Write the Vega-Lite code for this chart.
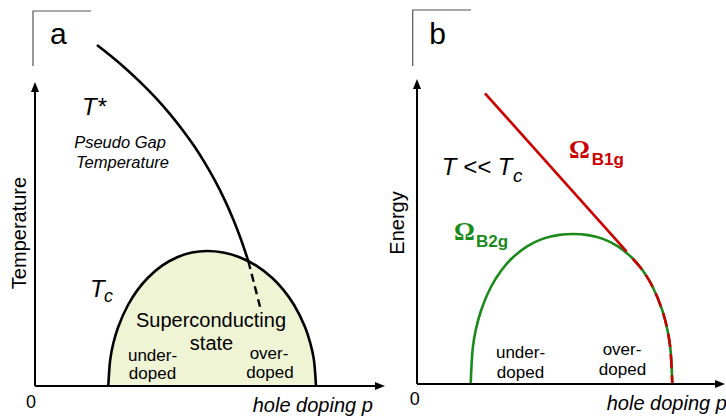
{
  "$schema": "https://vega.github.io/schema/vega-lite/v6.json",
  "padding": 0,
  "spacing": 0,
  "bounds": "flush",
  "background": "white",
  "config": {"view": {"stroke": null}, "text": {"font": "Liberation Sans"}},
  "resolve": {"scale": {"x": "independent", "y": "independent", "shape": "independent"}},
  "datasets": {
    "a_lines": [
      {"curve": "Tc", "i": 0, "p": 0.0733, "T": 0},
      {"curve": "Tc", "i": 1, "p": 0.0753, "T": 0.0897},
      {"curve": "Tc", "i": 2, "p": 0.0782, "T": 0.1407},
      {"curve": "Tc", "i": 3, "p": 0.0831, "T": 0.196},
      {"curve": "Tc", "i": 4, "p": 0.093, "T": 0.27},
      {"curve": "Tc", "i": 5, "p": 0.1028, "T": 0.3213},
      {"curve": "Tc", "i": 6, "p": 0.1127, "T": 0.36},
      {"curve": "Tc", "i": 7, "p": 0.1274, "T": 0.402},
      {"curve": "Tc", "i": 8, "p": 0.1422, "T": 0.4293},
      {"curve": "Tc", "i": 9, "p": 0.1569, "T": 0.445},
      {"curve": "Tc", "i": 10, "p": 0.1717, "T": 0.45},
      {"curve": "Tc", "i": 11, "p": 0.1881, "T": 0.445},
      {"curve": "Tc", "i": 12, "p": 0.2045, "T": 0.4293},
      {"curve": "Tc", "i": 13, "p": 0.2209, "T": 0.402},
      {"curve": "Tc", "i": 14, "p": 0.2373, "T": 0.36},
      {"curve": "Tc", "i": 15, "p": 0.2482, "T": 0.3213},
      {"curve": "Tc", "i": 16, "p": 0.2591, "T": 0.27},
      {"curve": "Tc", "i": 17, "p": 0.2701, "T": 0.196},
      {"curve": "Tc", "i": 18, "p": 0.2755, "T": 0.1407},
      {"curve": "Tc", "i": 19, "p": 0.2788, "T": 0.0897},
      {"curve": "Tc", "i": 20, "p": 0.281, "T": 0},
      {"curve": "T*", "i": 0, "p": 0.062, "T": 1.1367},
      {"curve": "T*", "i": 1, "p": 0.075, "T": 1.1023},
      {"curve": "T*", "i": 2, "p": 0.0883, "T": 1.065},
      {"curve": "T*", "i": 3, "p": 0.105, "T": 1.0137},
      {"curve": "T*", "i": 4, "p": 0.1217, "T": 0.957},
      {"curve": "T*", "i": 5, "p": 0.135, "T": 0.9063},
      {"curve": "T*", "i": 6, "p": 0.1483, "T": 0.8503},
      {"curve": "T*", "i": 7, "p": 0.16, "T": 0.7957},
      {"curve": "T*", "i": 8, "p": 0.17, "T": 0.743},
      {"curve": "T*", "i": 9, "p": 0.18, "T": 0.6843},
      {"curve": "T*", "i": 10, "p": 0.19, "T": 0.618},
      {"curve": "T*", "i": 11, "p": 0.1983, "T": 0.555},
      {"curve": "T*", "i": 12, "p": 0.205, "T": 0.4973},
      {"curve": "T*", "i": 13, "p": 0.21, "T": 0.4497},
      {"curve": "T*", "i": 14, "p": 0.2133, "T": 0.4157},
      {"curve": "T* inside dome", "i": 0, "p": 0.2133, "T": 0.4157},
      {"curve": "T* inside dome", "i": 1, "p": 0.219, "T": 0.343},
      {"curve": "T* inside dome", "i": 2, "p": 0.225, "T": 0.2643},
      {"curve": "p axis", "i": 0, "p": 0, "T": 0},
      {"curve": "p axis", "i": 1, "p": 0.342, "T": 0},
      {"curve": "T axis", "i": 0, "p": 0, "T": 0},
      {"curve": "T axis", "i": 1, "p": 0, "T": 1.005},
      {"curve": "frame", "i": 0, "p": -0.002, "T": 1.0667},
      {"curve": "frame", "i": 1, "p": -0.002, "T": 1.25},
      {"curve": "frame", "i": 2, "p": 0.056, "T": 1.25}
    ],
    "a_arrows": [
      {"dir": "right", "p": 0.35, "T": 0},
      {"dir": "up", "p": 0, "T": 1.0133}
    ],
    "a_text": [
      {"kind": "panel", "label": "a", "p": 0.0233, "T": 1.14},
      {"kind": "symbol", "label": "T*", "p": 0.047, "T": 0.9033},
      {"kind": "note", "label": "Pseudo Gap", "p": 0.085, "T": 0.7933},
      {"kind": "note", "label": "Temperature", "p": 0.0875, "T": 0.7267},
      {"kind": "symbol", "label": "T", "p": 0.055, "T": 0.2967},
      {"kind": "subscript", "label": "c", "p": 0.069, "T": 0.28},
      {"kind": "region", "label": "Superconducting", "p": 0.176, "T": 0.1967},
      {"kind": "region", "label": "state", "p": 0.1765, "T": 0.12},
      {"kind": "doping", "label": "under-", "p": 0.1175, "T": 0.0833},
      {"kind": "doping", "label": "doped", "p": 0.1175, "T": 0.0233},
      {"kind": "doping", "label": "over-", "p": 0.234, "T": 0.09},
      {"kind": "doping", "label": "doped", "p": 0.235, "T": 0.0267},
      {"kind": "origin", "label": "0", "p": -0.004, "T": -0.0733},
      {"kind": "xtitle", "label": "hole doping p", "p": 0.2177, "T": -0.0857},
      {"kind": "ytitle", "label": "Temperature", "p": -0.009, "T": 0.51}
    ],
    "b_lines": [
      {"curve": "B2g", "i": 0, "p": 0.0537, "E": 0},
      {"curve": "B2g", "i": 1, "p": 0.0558, "E": 0.1203},
      {"curve": "B2g", "i": 2, "p": 0.0588, "E": 0.1807},
      {"curve": "B2g", "i": 3, "p": 0.064, "E": 0.2443},
      {"curve": "B2g", "i": 4, "p": 0.0742, "E": 0.325},
      {"curve": "B2g", "i": 5, "p": 0.0845, "E": 0.379},
      {"curve": "B2g", "i": 6, "p": 0.0947, "E": 0.4183},
      {"curve": "B2g", "i": 7, "p": 0.1101, "E": 0.4587},
      {"curve": "B2g", "i": 8, "p": 0.1255, "E": 0.4837},
      {"curve": "B2g", "i": 9, "p": 0.1409, "E": 0.4963},
      {"curve": "B2g", "i": 10, "p": 0.1563, "E": 0.5},
      {"curve": "B2g", "i": 11, "p": 0.1712, "E": 0.4963},
      {"curve": "B2g", "i": 12, "p": 0.186, "E": 0.4837},
      {"curve": "B2g", "i": 13, "p": 0.2009, "E": 0.4587},
      {"curve": "B2g", "i": 14, "p": 0.2157, "E": 0.4183},
      {"curve": "B2g", "i": 15, "p": 0.2256, "E": 0.379},
      {"curve": "B2g", "i": 16, "p": 0.2355, "E": 0.325},
      {"curve": "B2g", "i": 17, "p": 0.2454, "E": 0.2443},
      {"curve": "B2g", "i": 18, "p": 0.2504, "E": 0.1807},
      {"curve": "B2g", "i": 19, "p": 0.2533, "E": 0.1203},
      {"curve": "B2g", "i": 20, "p": 0.2553, "E": 0},
      {"curve": "B1g", "i": 0, "p": 0.068, "E": 0.969},
      {"curve": "B1g", "i": 1, "p": 0.2097, "E": 0.441},
      {"curve": "B1g overdoped", "i": 0, "p": 0.2157, "E": 0.4183},
      {"curve": "B1g overdoped", "i": 1, "p": 0.2256, "E": 0.379},
      {"curve": "B1g overdoped", "i": 2, "p": 0.2355, "E": 0.325},
      {"curve": "B1g overdoped", "i": 3, "p": 0.2454, "E": 0.2443},
      {"curve": "B1g overdoped", "i": 4, "p": 0.2504, "E": 0.1807},
      {"curve": "B1g overdoped", "i": 5, "p": 0.2533, "E": 0.1203},
      {"curve": "B1g overdoped", "i": 6, "p": 0.2553, "E": 0},
      {"curve": "p axis", "i": 0, "p": 0, "E": 0},
      {"curve": "p axis", "i": 1, "p": 0.3, "E": 0},
      {"curve": "E axis", "i": 0, "p": 0, "E": 0},
      {"curve": "E axis", "i": 1, "p": 0, "E": 1.008},
      {"curve": "frame", "i": 0, "p": -0.0043, "E": 1.06},
      {"curve": "frame", "i": 1, "p": -0.0043, "E": 1.2467},
      {"curve": "frame", "i": 2, "p": 0.054, "E": 1.2467}
    ],
    "b_arrows": [
      {"dir": "right", "p": 0.308, "E": 0},
      {"dir": "up", "p": 0, "E": 1.0167}
    ],
    "b_text": [
      {"kind": "panel", "label": "b", "p": 0.0205, "E": 1.1333},
      {"kind": "symbol", "label": "T << T", "p": 0.0247, "E": 0.6967},
      {"kind": "subscript", "label": "c", "p": 0.096, "E": 0.6733},
      {"kind": "mode", "mode": "B1g", "label": "Ω", "p": 0.152, "E": 0.7523},
      {"kind": "modesub", "mode": "B1g", "label": "B1g", "p": 0.1747, "E": 0.73},
      {"kind": "mode", "mode": "B2g", "label": "Ω", "p": 0.037, "E": 0.48},
      {"kind": "modesub", "mode": "B2g", "label": "B2g", "p": 0.059, "E": 0.4577},
      {"kind": "doping", "label": "under-", "p": 0.1035, "E": 0.0857},
      {"kind": "doping", "label": "doped", "p": 0.1035, "E": 0.021},
      {"kind": "doping", "label": "over-", "p": 0.205, "E": 0.0967},
      {"kind": "doping", "label": "doped", "p": 0.2055, "E": 0.03},
      {"kind": "origin", "label": "0", "p": -0.0023, "E": -0.07},
      {"kind": "xtitle", "label": "hole doping p", "p": 0.1897, "E": -0.0867},
      {"kind": "ytitle", "label": "Energy", "p": -0.013, "E": 0.5367}
    ]
  },
  "hconcat": [
    {
      "width": 363,
      "height": 417,
      "encoding": {
        "x": {"field": "p", "type": "quantitative", "axis": null, "scale": {"domain": [-0.035, 0.328], "nice": false, "zero": false}},
        "y": {"field": "T", "type": "quantitative", "axis": null, "scale": {"domain": [-0.10333, 1.28667], "nice": false, "zero": false}}
      },
      "layer": [
        {
          "data": {"name": "a_lines"},
          "transform": [{"filter": "datum.curve === 'Tc'"}],
          "mark": {"type": "area", "color": "#eef4d4", "opacity": 1, "interpolate": "catmull-rom"},
          "encoding": {"y2": {"datum": 0}}
        },
        {
          "data": {"name": "a_lines"},
          "transform": [{"filter": "datum.curve === 'Tc' || datum.curve === 'T*'"}],
          "mark": {"type": "line", "color": "black", "strokeWidth": 2.6, "interpolate": "catmull-rom"},
          "encoding": {"detail": {"field": "curve"}, "order": {"field": "i"}}
        },
        {
          "data": {"name": "a_lines"},
          "transform": [{"filter": "datum.curve === 'T* inside dome'"}],
          "mark": {"type": "line", "color": "black", "strokeWidth": 2.4, "strokeDash": [8, 5], "interpolate": "catmull-rom"},
          "encoding": {"order": {"field": "i"}}
        },
        {
          "data": {"name": "a_lines"},
          "transform": [{"filter": "datum.curve === 'p axis' || datum.curve === 'T axis'"}],
          "mark": {"type": "line", "color": "black", "strokeWidth": 2},
          "encoding": {"detail": {"field": "curve"}, "order": {"field": "i"}}
        },
        {
          "data": {"name": "a_lines"},
          "transform": [{"filter": "datum.curve === 'frame'"}],
          "mark": {"type": "line", "color": "#555555", "strokeWidth": 1.2},
          "encoding": {"order": {"field": "i"}}
        },
        {
          "data": {"name": "a_arrows"},
          "mark": {"type": "point", "filled": true, "color": "black", "opacity": 1, "size": 100},
          "encoding": {"shape": {"field": "dir", "type": "nominal", "legend": null, "scale": {"domain": ["right", "up"], "range": ["M 0 0 L -2 -0.8 L -2 0.8 Z", "M 0 0 L -0.8 2 L 0.8 2 Z"]}}}
        },
        {
          "data": {"name": "a_text"},
          "transform": [{"filter": "datum.kind === 'panel'"}],
          "mark": {"type": "text", "fontSize": 30, "align": "center", "baseline": "alphabetic", "color": "black"},
          "encoding": {"text": {"field": "label"}}
        },
        {
          "data": {"name": "a_text"},
          "transform": [{"filter": "datum.kind === 'symbol'"}],
          "mark": {"type": "text", "fontSize": 24, "fontStyle": "italic", "align": "left", "baseline": "alphabetic", "color": "black"},
          "encoding": {"text": {"field": "label"}}
        },
        {
          "data": {"name": "a_text"},
          "transform": [{"filter": "datum.kind === 'subscript'"}],
          "mark": {"type": "text", "fontSize": 18, "fontStyle": "italic", "align": "left", "baseline": "alphabetic", "color": "black"},
          "encoding": {"text": {"field": "label"}}
        },
        {
          "data": {"name": "a_text"},
          "transform": [{"filter": "datum.kind === 'note'"}],
          "mark": {"type": "text", "fontSize": 16.5, "fontStyle": "italic", "align": "center", "baseline": "alphabetic", "color": "black"},
          "encoding": {"text": {"field": "label"}}
        },
        {
          "data": {"name": "a_text"},
          "transform": [{"filter": "datum.kind === 'region'"}],
          "mark": {"type": "text", "fontSize": 20, "align": "center", "baseline": "alphabetic", "color": "black"},
          "encoding": {"text": {"field": "label"}}
        },
        {
          "data": {"name": "a_text"},
          "transform": [{"filter": "datum.kind === 'doping'"}],
          "mark": {"type": "text", "fontSize": 17, "align": "center", "baseline": "alphabetic", "color": "black"},
          "encoding": {"text": {"field": "label"}}
        },
        {
          "data": {"name": "a_text"},
          "transform": [{"filter": "datum.kind === 'origin'"}],
          "mark": {"type": "text", "fontSize": 18, "align": "center", "baseline": "alphabetic", "color": "black"},
          "encoding": {"text": {"field": "label"}}
        },
        {
          "data": {"name": "a_text"},
          "transform": [{"filter": "datum.kind === 'xtitle'"}],
          "mark": {"type": "text", "fontSize": 20, "fontStyle": "italic", "align": "left", "baseline": "alphabetic", "color": "black"},
          "encoding": {"text": {"field": "label"}}
        },
        {
          "data": {"name": "a_text"},
          "transform": [{"filter": "datum.kind === 'ytitle'"}],
          "mark": {"type": "text", "fontSize": 20, "angle": 270, "align": "center", "baseline": "alphabetic", "color": "black"},
          "encoding": {"text": {"field": "label"}}
        }
      ]
    },
    {
      "width": 363,
      "height": 417,
      "encoding": {
        "x": {"field": "p", "type": "quantitative", "axis": null, "scale": {"domain": [-0.054, 0.309], "nice": false, "zero": false}},
        "y": {"field": "E", "type": "quantitative", "axis": null, "scale": {"domain": [-0.11, 1.28], "nice": false, "zero": false}}
      },
      "layer": [
        {
          "data": {"name": "b_lines"},
          "transform": [{"filter": "datum.curve === 'B2g'"}],
          "mark": {"type": "line", "color": "#1a8a1a", "strokeWidth": 2.6, "interpolate": "catmull-rom"},
          "encoding": {"order": {"field": "i"}}
        },
        {
          "data": {"name": "b_lines"},
          "transform": [{"filter": "datum.curve === 'B1g'"}],
          "mark": {"type": "line", "color": "#cc0000", "strokeWidth": 2.6},
          "encoding": {"order": {"field": "i"}}
        },
        {
          "data": {"name": "b_lines"},
          "transform": [{"filter": "datum.curve === 'B1g overdoped'"}],
          "mark": {"type": "line", "color": "#cc0000", "strokeWidth": 2.6, "strokeDash": [14, 7], "interpolate": "catmull-rom"},
          "encoding": {"order": {"field": "i"}}
        },
        {
          "data": {"name": "b_lines"},
          "transform": [{"filter": "datum.curve === 'p axis' || datum.curve === 'E axis'"}],
          "mark": {"type": "line", "color": "black", "strokeWidth": 2},
          "encoding": {"detail": {"field": "curve"}, "order": {"field": "i"}}
        },
        {
          "data": {"name": "b_lines"},
          "transform": [{"filter": "datum.curve === 'frame'"}],
          "mark": {"type": "line", "color": "#555555", "strokeWidth": 1.2},
          "encoding": {"order": {"field": "i"}}
        },
        {
          "data": {"name": "b_arrows"},
          "mark": {"type": "point", "filled": true, "color": "black", "opacity": 1, "size": 100},
          "encoding": {"shape": {"field": "dir", "type": "nominal", "legend": null, "scale": {"domain": ["right", "up"], "range": ["M 0 0 L -2 -0.8 L -2 0.8 Z", "M 0 0 L -0.8 2 L 0.8 2 Z"]}}}
        },
        {
          "data": {"name": "b_text"},
          "transform": [{"filter": "datum.kind === 'panel'"}],
          "mark": {"type": "text", "fontSize": 30, "align": "center", "baseline": "alphabetic", "color": "black"},
          "encoding": {"text": {"field": "label"}}
        },
        {
          "data": {"name": "b_text"},
          "transform": [{"filter": "datum.kind === 'symbol'"}],
          "mark": {"type": "text", "fontSize": 24, "fontStyle": "italic", "align": "left", "baseline": "alphabetic", "color": "black"},
          "encoding": {"text": {"field": "label"}}
        },
        {
          "data": {"name": "b_text"},
          "transform": [{"filter": "datum.kind === 'subscript'"}],
          "mark": {"type": "text", "fontSize": 19, "fontStyle": "italic", "align": "left", "baseline": "alphabetic", "color": "black"},
          "encoding": {"text": {"field": "label"}}
        },
        {
          "data": {"name": "b_text"},
          "transform": [{"filter": "datum.kind === 'mode'"}],
          "mark": {"type": "text", "font": "Liberation Serif", "fontSize": 26, "fontWeight": "bold", "align": "left", "baseline": "alphabetic"},
          "encoding": {
            "text": {"field": "label"},
            "color": {"field": "mode", "type": "nominal", "legend": null, "scale": {"domain": ["B1g", "B2g"], "range": ["#cc0000", "#1a8a1a"]}}
          }
        },
        {
          "data": {"name": "b_text"},
          "transform": [{"filter": "datum.kind === 'modesub'"}],
          "mark": {"type": "text", "fontSize": 17, "fontWeight": "bold", "align": "left", "baseline": "alphabetic"},
          "encoding": {
            "text": {"field": "label"},
            "color": {"field": "mode", "type": "nominal", "legend": null, "scale": {"domain": ["B1g", "B2g"], "range": ["#cc0000", "#1a8a1a"]}}
          }
        },
        {
          "data": {"name": "b_text"},
          "transform": [{"filter": "datum.kind === 'doping'"}],
          "mark": {"type": "text", "fontSize": 17, "align": "center", "baseline": "alphabetic", "color": "black"},
          "encoding": {"text": {"field": "label"}}
        },
        {
          "data": {"name": "b_text"},
          "transform": [{"filter": "datum.kind === 'origin'"}],
          "mark": {"type": "text", "fontSize": 18, "align": "center", "baseline": "alphabetic", "color": "black"},
          "encoding": {"text": {"field": "label"}}
        },
        {
          "data": {"name": "b_text"},
          "transform": [{"filter": "datum.kind === 'xtitle'"}],
          "mark": {"type": "text", "fontSize": 20, "fontStyle": "italic", "align": "left", "baseline": "alphabetic", "color": "black"},
          "encoding": {"text": {"field": "label"}}
        },
        {
          "data": {"name": "b_text"},
          "transform": [{"filter": "datum.kind === 'ytitle'"}],
          "mark": {"type": "text", "fontSize": 20, "angle": 270, "align": "center", "baseline": "alphabetic", "color": "black"},
          "encoding": {"text": {"field": "label"}}
        }
      ]
    }
  ]
}
